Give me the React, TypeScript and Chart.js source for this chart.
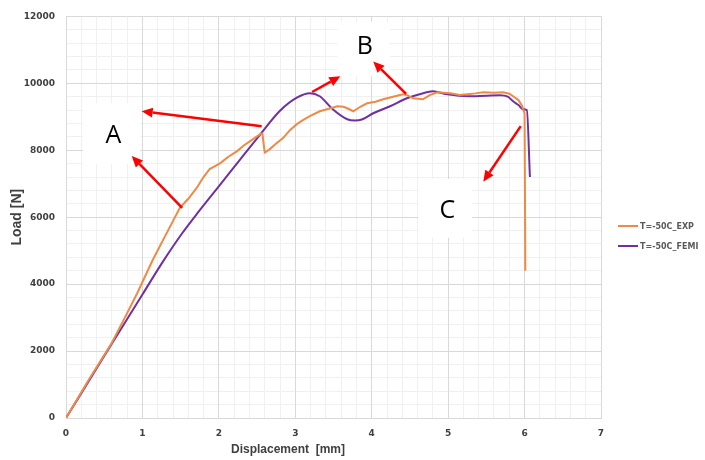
import React, { useEffect, useRef } from "react";
import { Chart, registerables } from "chart.js";

Chart.register(...registerables);

// ---- data ----
const expX = [0, 0.3, 0.6, 0.77, 0.93, 1.13, 1.3, 1.49, 1.6, 1.71, 1.8, 1.88, 2.02, 2.12, 2.24, 2.33, 2.41, 2.54, 2.57, 2.6, 2.66, 2.75, 2.84, 2.93, 3.02, 3.1, 3.19, 3.32, 3.45, 3.55, 3.63, 3.68, 3.76, 3.85, 3.94, 4.05, 4.15, 4.28, 4.41, 4.47, 4.54, 4.67, 4.76, 4.86, 5.03, 5.15, 5.25, 5.36, 5.46, 5.6, 5.72, 5.8, 5.85, 5.92, 5.97, 6.0, 6.01];
const expY = [0, 1150, 2250, 3000, 3720, 4700, 5450, 6280, 6550, 6875, 7200, 7440, 7618, 7800, 7976, 8150, 8273, 8482, 8500, 7930, 8020, 8200, 8363, 8600, 8780, 8900, 9017, 9166, 9250, 9315, 9300, 9255, 9166, 9300, 9404, 9450, 9523, 9600, 9672, 9640, 9553, 9523, 9650, 9731, 9702, 9650, 9672, 9700, 9731, 9720, 9731, 9690, 9613, 9500, 9315, 9100, 4400];

const femX = [0, 0.5, 1.0, 1.27, 1.52, 1.73, 2.02, 2.28, 2.54, 2.8, 3.02, 3.19, 3.32, 3.49, 3.68, 3.78, 3.88, 4.02, 4.24, 4.46, 4.65, 4.8, 4.99, 5.25, 5.5, 5.68, 5.78, 5.85, 5.92, 5.98, 6.03, 6.07];
const femY = [0, 1850, 3690, 4680, 5520, 6150, 6980, 7730, 8470, 9180, 9570, 9702, 9613, 9226, 8928, 8890, 8928, 9106, 9315, 9553, 9690, 9761, 9672, 9613, 9630, 9642, 9600, 9464, 9350, 9226, 9200, 7200];

const seriesNames = ["T=-50C_EXP", "T=-50C_FEMI"];
const xAxisTitle = "Displacement  [mm]";
const yAxisTitle = "Load [N]";

// annotations in data coordinates
const letterText = ["A", "B", "C"];
const letterX = [0.62, 3.91, 4.99];
const letterY = [8422, 11100, 6190];
const boxX0 = [0.22, 3.55, 4.61];
const boxX1 = [0.97, 4.24, 5.31];
const boxY0 = [7589, 10208, 5387];
const boxY1 = [9404, 11845, 7142];

const arrowFromX = [1.52, 2.56, 3.22, 4.45, 5.95];
const arrowFromY = [6280, 8720, 9741, 9682, 8720];
const arrowToX = [0.86, 0.99, 3.59, 4.02, 5.46];
const arrowToY = [7827, 9166, 10208, 10654, 7062];

const ORANGE = "#EE8A45";
const PURPLE = "#7030A0";
const RED = "#FF0000";

const overlayPlugin = {
  id: "overlay",
  beforeDatasetsDraw(chart: any) {
    const { ctx, scales } = chart;
    const xs = scales.x, ys = scales.y;
    ctx.save();
    ctx.fillStyle = "#ffffff";
    for (let i = 0; i < boxX0.length; i++) {
      const x0 = xs.getPixelForValue(boxX0[i]);
      const x1 = xs.getPixelForValue(boxX1[i]);
      const y0 = ys.getPixelForValue(boxY1[i]);
      const y1 = ys.getPixelForValue(boxY0[i]);
      ctx.fillRect(x0, y0, x1 - x0, y1 - y0);
    }
    ctx.restore();
  },
  afterDatasetsDraw(chart: any) {
    const { ctx, scales } = chart;
    const xs = scales.x, ys = scales.y;
    ctx.save();
    ctx.fillStyle = "#000000";
    ctx.font = "25px 'Open Sans', 'Liberation Sans', sans-serif";
    ctx.textAlign = "center";
    ctx.textBaseline = "middle";
    for (let i = 0; i < letterText.length; i++) {
      ctx.fillText(letterText[i], xs.getPixelForValue(letterX[i]), ys.getPixelForValue(letterY[i]));
    }
    ctx.strokeStyle = RED;
    ctx.fillStyle = RED;
    ctx.lineWidth = 2.5;
    for (let i = 0; i < arrowFromX.length; i++) {
      const fx = xs.getPixelForValue(arrowFromX[i]);
      const fy = ys.getPixelForValue(arrowFromY[i]);
      const tx = xs.getPixelForValue(arrowToX[i]);
      const ty = ys.getPixelForValue(arrowToY[i]);
      const ang = Math.atan2(ty - fy, tx - fx);
      const hl = 11, hw = 5;
      const bx = tx - hl * Math.cos(ang);
      const by = ty - hl * Math.sin(ang);
      ctx.beginPath();
      ctx.moveTo(fx, fy);
      ctx.lineTo(bx, by);
      ctx.stroke();
      ctx.beginPath();
      ctx.moveTo(tx, ty);
      ctx.lineTo(bx + hw * Math.sin(ang), by - hw * Math.cos(ang));
      ctx.lineTo(bx - hw * Math.sin(ang), by + hw * Math.cos(ang));
      ctx.closePath();
      ctx.fill();
    }
    ctx.restore();
  },
  afterDraw(chart: any) {
    const { ctx } = chart;
    ctx.save();
    ctx.fillStyle = "#404040";
    ctx.font = "bold 12px 'Liberation Sans', Arial, sans-serif";
    ctx.textAlign = "center";
    ctx.textBaseline = "middle";
    ctx.fillText(xAxisTitle, 288, 450);
    const colors = [ORANGE, PURPLE];
    const ly = [226, 246];
    ctx.font = "bold 8px 'DejaVu Sans', sans-serif";
    ctx.textAlign = "left";
    for (let i = 0; i < seriesNames.length; i++) {
      ctx.strokeStyle = colors[i];
      ctx.lineWidth = 2;
      ctx.beginPath();
      ctx.moveTo(618, ly[i]);
      ctx.lineTo(638, ly[i]);
      ctx.stroke();
      ctx.fillStyle = "#595959";
      ctx.fillText(seriesNames[i], 640, ly[i] + 0.5);
    }
    ctx.restore();
  },
};

export default function App() {
  const ref = useRef<HTMLCanvasElement>(null);
  useEffect(() => {
    document.body.style.margin = "0";
    const canvas = ref.current!;
    const tickFont = { family: "'DejaVu Sans', sans-serif", size: 9, weight: "bold" as const };
    const plain = (v: any) => String(v);
    const chart = new Chart(canvas, {
      type: "line",
      data: {
        datasets: [
          {
            label: seriesNames[0],
            data: expX.map((x, i) => ({ x, y: expY[i] })),
            borderColor: ORANGE,
            backgroundColor: ORANGE,
            borderWidth: 2,
            pointRadius: 0,
            tension: 0,
          },
          {
            label: seriesNames[1],
            data: femX.map((x, i) => ({ x, y: femY[i] })),
            borderColor: PURPLE,
            backgroundColor: PURPLE,
            borderWidth: 2,
            pointRadius: 0,
            cubicInterpolationMode: "monotone",
          },
        ],
      },
      options: {
        animation: false,
        responsive: false,
        layout: { padding: { top: 15, right: 104, left: 0, bottom: 0 } },
        plugins: { legend: { display: false }, tooltip: { enabled: false } },
        scales: {
          xMinor: {
            type: "linear",
            position: "bottom",
            min: 0,
            max: 7,
            z: -1,
            ticks: { display: false, stepSize: 0.2 },
            grid: { color: "#f0f0f0", drawTicks: false },
            border: { display: false },
            afterFit: (s: any) => { s.height = 0; },
          },
          yMinor: {
            type: "linear",
            position: "left",
            min: 0,
            max: 12000,
            z: -1,
            ticks: { display: false, stepSize: 400 },
            grid: { color: "#f0f0f0", drawTicks: false },
            border: { display: false },
            afterFit: (s: any) => { s.width = 0; },
          },
          x: {
            type: "linear",
            position: "bottom",
            min: 0,
            max: 7,
            ticks: { stepSize: 1, font: tickFont, color: "#404040", padding: 10, callback: plain },
            grid: { color: "#d9d9d9", drawTicks: false },
            border: { color: "#d9d9d9" },
            afterFit: (s: any) => { s.height = 42; },
          },
          y: {
            type: "linear",
            position: "left",
            min: 0,
            max: 12000,
            ticks: { stepSize: 2000, font: tickFont, color: "#404040", padding: 11, callback: plain },
            grid: { color: "#d9d9d9", drawTicks: false },
            border: { color: "#d9d9d9" },
            title: {
              display: true,
              text: yAxisTitle,
              color: "#404040",
              font: { family: "'Liberation Sans', Arial, sans-serif", size: 14, weight: "bold" },
              padding: { top: 9, bottom: 0 },
            },
            afterFit: (s: any) => { s.width = 66; },
          },
        },
      },
      plugins: [overlayPlugin],
    } as any);
    return () => chart.destroy();
  }, []);
  return (
    <div style={{ width: 705, height: 460 }}>
      <canvas ref={ref} width={705} height={460} />
    </div>
  );
}
